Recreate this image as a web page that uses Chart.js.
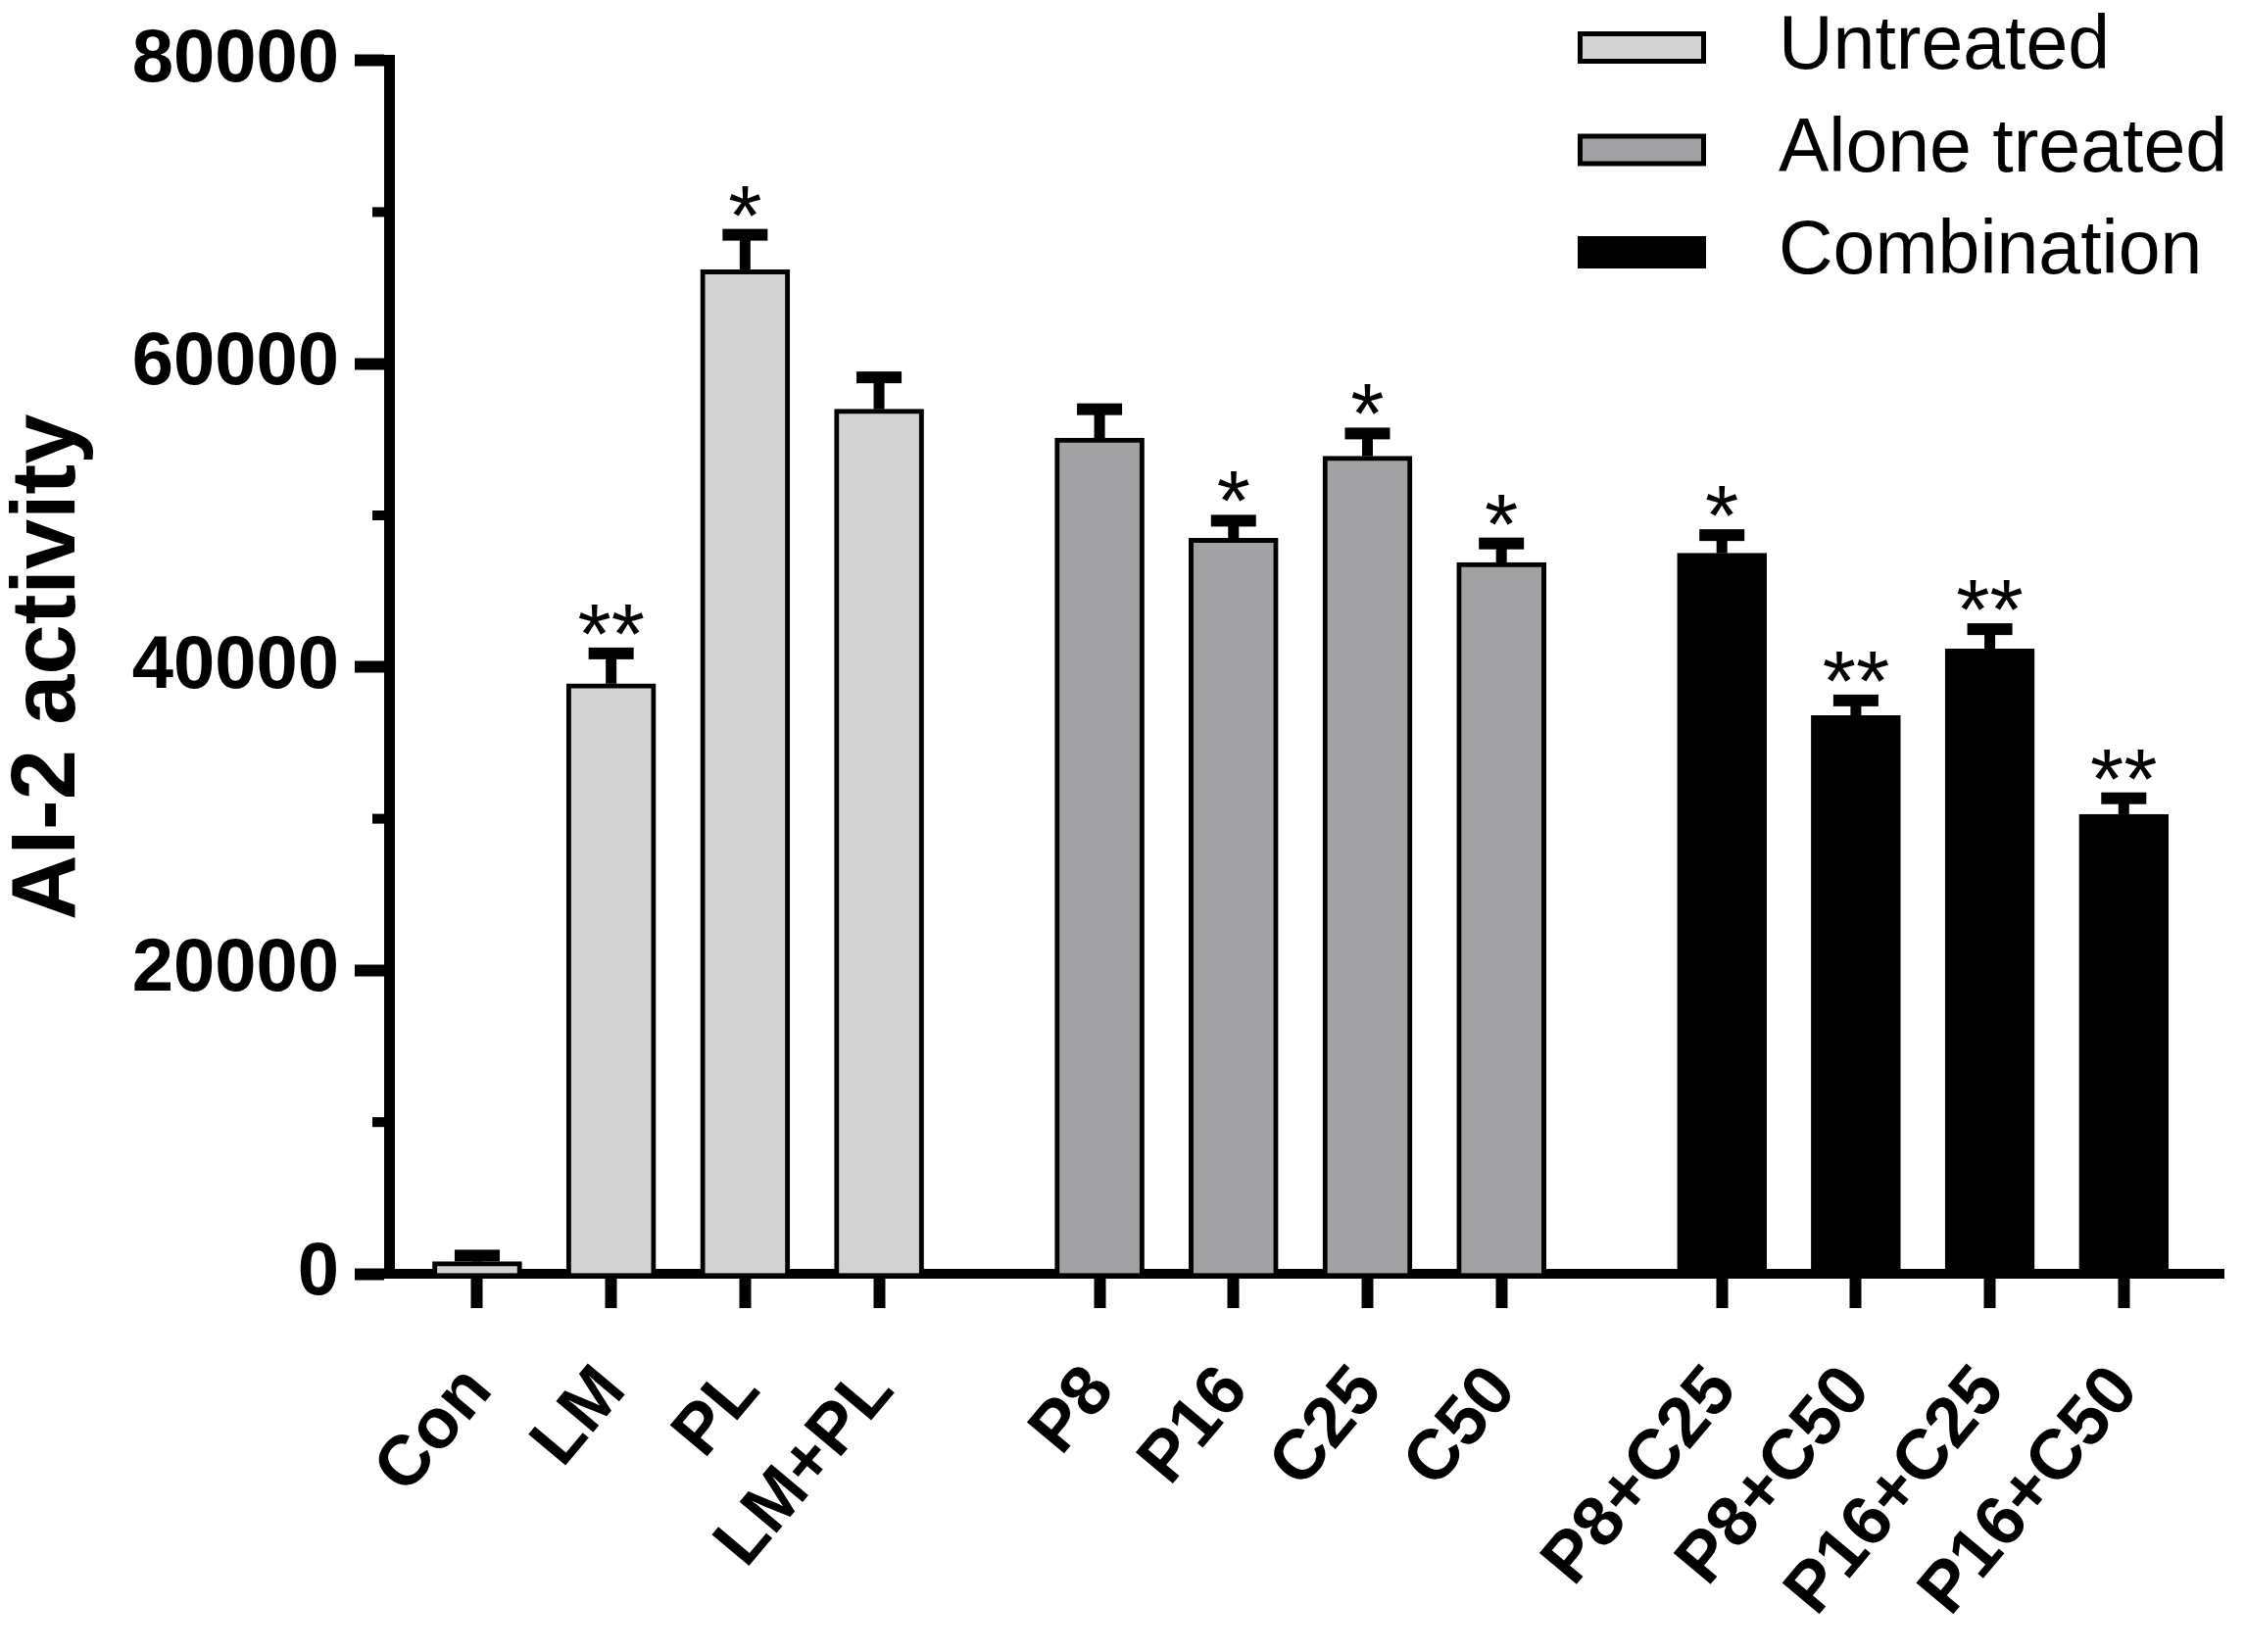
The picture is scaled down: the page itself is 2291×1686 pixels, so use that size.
<!DOCTYPE html>
<html>
<head>
<meta charset="utf-8">
<script src="https://cdn.jsdelivr.net/npm/chart.js@4.4.1/dist/chart.umd.min.js"></script>
<style>
  html, body { margin: 0; padding: 0; background: #fff; }
  #wrap { width: 2291px; height: 1686px; }
</style>
</head>
<body>
<div id="wrap"><canvas id="ai2Chart" width="2291" height="1686"></canvas></div>
<script>
// data
const categories = ['Con', 'LM', 'PL', 'LM+PL', 'P8', 'P16', 'C25', 'C50', 'P8+C25', 'P8+C50', 'P16+C25', 'P16+C50'];
const groupNames = ['Untreated', 'Alone treated', 'Combination'];
const groupOf = [0, 0, 0, 0, 1, 1, 1, 1, 2, 2, 2, 2];
const activity = [800, 38900, 66200, 57000, 55100, 48500, 53900, 46900, 47500, 36800, 41200, 30300];
const sem = [400, 2000, 2300, 2100, 1900, 1150, 1500, 1250, 1200, 1000, 1300, 1050];
const marks = ['', '**', '*', '', '', '*', '*', '*', '*', '**', '**', '**'];
const yTicks = [0, 10000, 20000, 30000, 40000, 50000, 60000, 70000, 80000];

const groupFill = ['#d3d3d3', '#a2a2a5', '#000000'];
const FONT = "'Liberation Sans', Arial, sans-serif";
const GROUP_GAP = 0.646;   // extra slots between groups

// slot position of each bar on the x scale
const slotPos = categories.map((c, i) => i + groupOf[i] * GROUP_GAP);

const datasets = groupNames.map((name, g) => ({
    label: name,
    data: categories.map((c, i) => ({ x: slotPos[i], y: activity[i], i: i }))
                    .filter(p => groupOf[p.i] === g),
    backgroundColor: groupFill[g],
    borderColor: '#000',
    borderWidth: 5,
    borderSkipped: 'bottom'
}));

// error bars + significance stars
const errorBars = {
    id: 'errorBars',
    afterDatasetsDraw(chart) {
        const ctx = chart.ctx;
        const y = chart.scales.y;
        ctx.save();
        ctx.fillStyle = '#000';
        chart.data.datasets.forEach((ds, d) => {
            chart.getDatasetMeta(d).data.forEach((bar, k) => {
                const i = ds.data[k].i;
                const top = y.getPixelForValue(activity[i] + sem[i]);
                ctx.fillRect(bar.x - 5.5, top, 11, bar.y - top);
                ctx.fillRect(bar.x - 23, top - 6, 46, 12);
                if (marks[i]) {
                    ctx.font = '88px ' + FONT;
                    ctx.textAlign = 'center';
                    ctx.textBaseline = 'alphabetic';
                    ctx.fillText(marks[i], bar.x, top + 10);
                }
            });
        });
        ctx.restore();
    }
};

// half-length minor ticks on the y axis
const minorTicks = {
    id: 'minorTicks',
    afterDraw(chart) {
        const ctx = chart.ctx;
        const y = chart.scales.y;
        const left = chart.chartArea.left;
        ctx.save();
        ctx.fillStyle = '#000';
        yTicks.filter(v => v % 20000 !== 0).forEach(v => {
            const py = y.getPixelForValue(v);
            ctx.fillRect(left - 17, py - 5, 17, 10);
        });
        ctx.restore();
    }
};

// legend in the top right corner
const boxLegend = {
    id: 'boxLegend',
    afterDraw(chart) {
        const ctx = chart.ctx;
        ctx.save();
        chart.data.datasets.forEach((ds, g) => {
            const top = 32 + g * 104.5;
            ctx.fillStyle = '#000';
            ctx.fillRect(1610, top, 131, 33);
            if (g < 2) {
                ctx.fillStyle = ds.backgroundColor;
                ctx.fillRect(1615, top + 5, 121, 23);
            }
            ctx.fillStyle = '#000';
            ctx.font = '77px ' + FONT;
            ctx.textAlign = 'left';
            ctx.textBaseline = 'middle';
            ctx.fillText(ds.label, 1815, top + 17);
        });
        ctx.restore();
    }
};

const ctx = document.getElementById('ai2Chart').getContext('2d');
new Chart(ctx, {
    type: 'bar',
    data: { datasets: datasets },
    options: {
        responsive: false,
        animation: false,
        devicePixelRatio: 1,
        layout: { padding: { left: 0, top: 53, right: 22, bottom: 0 } },
        datasets: { bar: { grouped: false, barThickness: 91 } },
        scales: {
            x: {
                type: 'linear',
                min: -0.658,
                max: 13.036,
                offset: false,
                afterBuildTicks: (scale) => {
                    scale.ticks = slotPos.map(v => ({ value: v }));
                },
                afterFit: (scale) => { scale.height = 386; },
                grid: {
                    offset: false,
                    drawOnChartArea: false,
                    tickLength: 35,
                    tickWidth: 12,
                    tickColor: '#000'
                },
                border: { color: '#000', width: 10 },
                ticks: {
                    autoSkip: false,
                    maxRotation: 50,
                    minRotation: 50,
                    padding: 44,
                    labelOffset: 2,
                    color: '#000',
                    font: { family: FONT, size: 72, weight: 'bold' },
                    callback: (value, index) => categories[index]
                }
            },
            y: {
                min: 0,
                max: 80000,
                afterBuildTicks: (scale) => {
                    scale.ticks = yTicks.map(v => ({ value: v }));
                },
                afterFit: (scale) => { scale.width = 397; },
                grid: {
                    drawOnChartArea: false,
                    tickLength: 35,
                    tickWidth: 12,
                    tickColor: (c) => (c.tick && c.tick.value % 20000 === 0) ? '#000' : 'rgba(0,0,0,0)'
                },
                border: { color: '#000', width: 11 },
                ticks: {
                    padding: 16,
                    color: '#000',
                    font: { family: FONT, size: 76, weight: 'bold' },
                    callback: (value) => value % 20000 === 0 ? String(value) : ''
                },
                title: {
                    display: true,
                    text: 'AI-2 activity',
                    color: '#000',
                    font: { family: FONT, size: 92, weight: 'bold', lineHeight: 1.1 },
                    padding: { top: 0, bottom: 0 }
                }
            }
        },
        plugins: {
            legend: { display: false },
            tooltip: { enabled: false }
        }
    },
    plugins: [errorBars, minorTicks, boxLegend]
});
</script>
</body>
</html>
